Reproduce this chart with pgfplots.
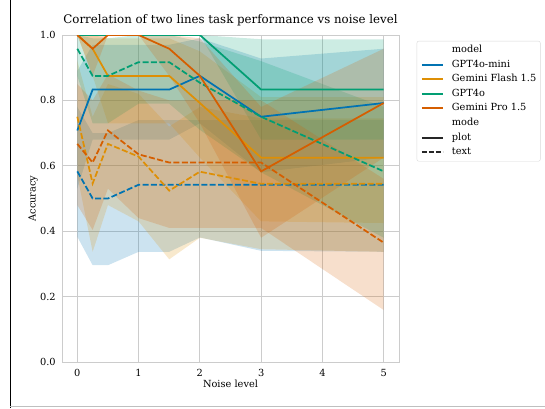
\documentclass[border=0pt]{standalone}
\usepackage{fontspec}
\setmainfont{DejaVu Serif}
\usepackage{pgfplots}
\pgfplotsset{compat=1.18}
\definecolor{cA}{HTML}{0173B2}
\definecolor{cB}{HTML}{DE8F05}
\definecolor{cC}{HTML}{029E73}
\definecolor{cD}{HTML}{D55E00}
\pgfplotsset{band/.style={fill=#1, fill opacity=0.2, draw=none, forget plot},
  sline/.style={color=#1, line width=1.75pt, forget plot},
  dline/.style={color=#1, line width=1.75pt, dash pattern=on 6pt off 2.4pt, forget plot}}
\begin{document}
\begin{tikzpicture}[x=1pt,y=1pt]
\path[use as bounding box] (0,0) rectangle (545,408);
\draw[black, line width=1pt] (10,0) -- (10,408);
\draw[black!25, line width=0.8pt] (10,1.3) -- (545,1.3);
\begin{axis}[
  at={(62pt,46pt)}, anchor=south west, scale only axis,
  width=337pt, height=327pt,
  xmin=-0.25, xmax=5.25, ymin=0, ymax=1,
  xtick={0,1,2,3,4,5}, ytick={0,0.2,0.4,0.6,0.8,1},
  grid=major, grid style={color=black!20, line width=0.8pt},
  axis line style={black!20, line width=1pt},
  tick style={draw=none},
  /pgf/number format/assume math mode=true,
  ticklabel style={font=\fontsize{9.8}{11}\selectfont},
  yticklabel style={anchor=east, xshift=-2.8pt, /pgf/number format/fixed, /pgf/number format/fixed zerofill, /pgf/number format/precision=1},
  xticklabel style={anchor=base, yshift=-14.5pt},
  title={Correlation of two lines task performance vs noise level},
  title style={at={(0.5,1)}, anchor=base, yshift=6pt, font=\fontsize{11.8}{13}\selectfont},
  xlabel={Noise level},
  xlabel style={at={(axis description cs:0.5,0)}, anchor=base, yshift=-25pt, font=\fontsize{9.8}{11}\selectfont},
  ylabel={Accuracy},
  ylabel style={at={(axis description cs:-0.086,0.5)}, anchor=center, font=\fontsize{9.8}{11}\selectfont},
  legend style={at={(1.0525,0.982)}, anchor=north west, draw=black!15, rounded corners=2pt, fill=white,
    font=\fontsize{9.8}{11}\selectfont, row sep=5.6pt, column sep=8pt, inner xsep=4pt, inner ysep=4.5pt,
    nodes={inner sep=0pt, text height=7pt, text depth=2pt}},
  legend cell align=left,
  legend image code/.code={\draw[#1] (0pt,0pt) -- (21pt,0pt);},
]
% ---- bands (upper then lower reversed) ----
% GPT4o-mini plot
\addplot[band=cA] coordinates {(0,0.89)(0.25,0.97)(0.5,0.97)(1,0.97)(1.5,0.97)(2,0.99)(3,0.928)(5,0.958)
  (5,0.625)(3,0.58)(2,0.73)(1.5,0.68)(1,0.68)(0.5,0.68)(0.25,0.68)(0,0.53)} -- cycle;
% GPT4o-mini text
\addplot[band=cA] coordinates {(0,0.78)(0.25,0.70)(0.5,0.70)(1,0.74)(1.5,0.74)(2,0.74)(3,0.74)(5,0.74)
  (5,0.337)(3,0.34)(2,0.381)(1.5,0.337)(1,0.337)(0.5,0.296)(0.25,0.296)(0,0.383)} -- cycle;
% Gemini Flash plot
\addplot[band=cB] coordinates {(0,1)(0.25,1)(0.5,0.99)(1,0.99)(1.5,0.99)(2,0.95)(3,0.81)(5,0.81)
  (5,0.425)(3,0.43)(2,0.625)(1.5,0.73)(1,0.73)(0.5,0.73)(0.25,0.875)(0,1)} -- cycle;
% Gemini Flash text
\addplot[band=cB] coordinates {(0,0.92)(0.25,0.75)(0.5,0.85)(1,0.82)(1.5,0.72)(2,0.78)(3,0.745)(5,0.745)
  (5,0.337)(3,0.345)(2,0.38)(1.5,0.314)(1,0.43)(0.5,0.48)(0.25,0.337)(0,0.57)} -- cycle;
% GPT4o plot
\addplot[band=cC] coordinates {(0,1)(0.25,1)(0.5,1)(1,1)(1.5,1)(2,1)(3,0.987)(5,0.987)
  (5,0.68)(3,0.68)(2,1)(1.5,1)(1,1)(0.5,1)(0.25,1)(0,1)} -- cycle;
% GPT4o text
\addplot[band=cC] coordinates {(0,1)(0.25,0.99)(0.5,0.99)(1,1)(1.5,1)(2,0.98)(3,0.92)(5,0.78)
  (5,0.38)(3,0.58)(2,0.71)(1.5,0.79)(1,0.79)(0.5,0.73)(0.25,0.73)(0,0.875)} -- cycle;
% Gemini Pro plot
\addplot[band=cD] coordinates {(0,1)(0.25,1)(0.5,1)(1,1)(1.5,1)(2,0.99)(3,0.78)(5,0.958)
  (5,0.625)(3,0.38)(2,0.73)(1.5,0.875)(1,1)(0.5,1)(0.25,0.875)(0,1)} -- cycle;
% Gemini Pro text
\addplot[band=cD] coordinates {(0,0.85)(0.25,0.80)(0.5,0.88)(1,0.83)(1.5,0.80)(2,0.80)(3,0.80)(5,0.56)
  (5,0.159)(3,0.41)(2,0.41)(1.5,0.41)(1,0.44)(0.5,0.53)(0.25,0.404)(0,0.48)} -- cycle;
% ---- mean lines ----
\addplot[sline=cA] coordinates {(0,0.708)(0.25,0.833)(0.5,0.833)(1,0.833)(1.5,0.833)(2,0.875)(3,0.75)(5,0.792)};
\addplot[dline=cA] coordinates {(0,0.583)(0.25,0.5)(0.5,0.5)(1,0.542)(1.5,0.542)(2,0.542)(3,0.542)(5,0.542)};
\addplot[sline=cB] coordinates {(0,1)(0.25,0.958)(0.5,0.875)(1,0.875)(1.5,0.875)(2,0.792)(3,0.625)(5,0.625)};
\addplot[dline=cB] coordinates {(0,0.75)(0.25,0.546)(0.5,0.667)(1,0.628)(1.5,0.524)(2,0.582)(3,0.545)(5,0.545)};
\addplot[sline=cC] coordinates {(0,1)(0.25,1)(0.5,1)(1,1)(1.5,1)(2,1)(3,0.833)(5,0.833)};
\addplot[dline=cC] coordinates {(0,0.958)(0.25,0.875)(0.5,0.875)(1,0.917)(1.5,0.917)(2,0.854)(3,0.75)(5,0.583)};
\addplot[sline=cD] coordinates {(0,1)(0.25,0.958)(0.5,1)(1,1)(1.5,0.958)(2,0.875)(3,0.583)(5,0.792)};
\addplot[dline=cD] coordinates {(0,0.667)(0.25,0.61)(0.5,0.708)(1,0.635)(1.5,0.61)(2,0.61)(3,0.61)(5,0.365)};
% ---- legend ----
\addlegendimage{empty legend}\addlegendentry{model}
\addlegendimage{draw=cA, line width=2pt}\addlegendentry{GPT4o-mini}
\addlegendimage{draw=cB, line width=2pt}\addlegendentry{Gemini Flash 1.5}
\addlegendimage{draw=cC, line width=2pt}\addlegendentry{GPT4o}
\addlegendimage{draw=cD, line width=2pt}\addlegendentry{Gemini Pro 1.5}
\addlegendimage{empty legend}\addlegendentry{mode}
\addlegendimage{draw=black!85, line width=2pt}\addlegendentry{plot}
\addlegendimage{draw=black!85, line width=2pt, dash pattern=on 5pt off 2pt}\addlegendentry{text}
\end{axis}
\end{tikzpicture}
\end{document}
